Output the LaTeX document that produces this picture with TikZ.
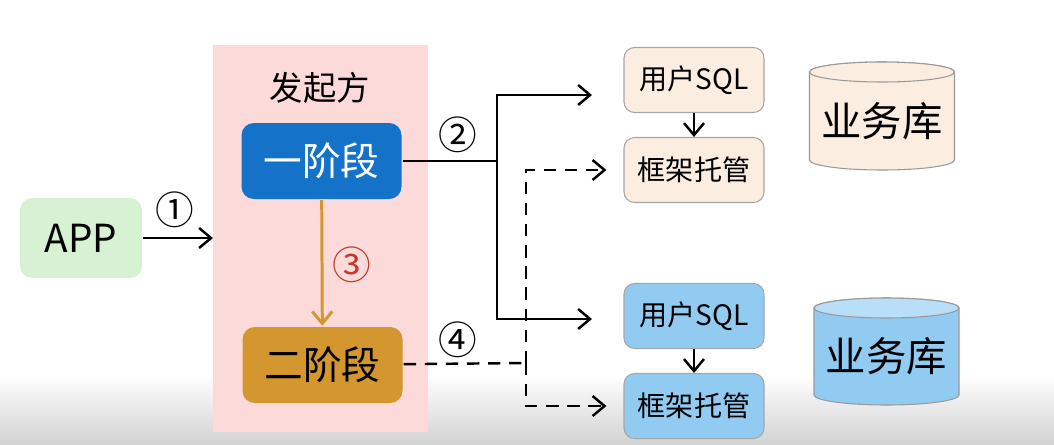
\documentclass[tikz,border=0pt]{standalone}
\usepackage{fontspec}
\setmainfont{Noto Sans CJK SC}
\usetikzlibrary{arrows.meta,positioning}
\definecolor{sideBg}{HTML}{FCDADA}
\definecolor{phaseOne}{HTML}{1572C9}
\definecolor{phaseTwo}{HTML}{D4962E}
\definecolor{appGreen}{HTML}{D6F2D3}
\definecolor{peach}{HTML}{FBEDE0}
\definecolor{skyBlue}{HTML}{92CBF2}
\definecolor{skyTop}{HTML}{B8DEF8}
\definecolor{stepRed}{HTML}{C0392B}

\begin{document}
\begin{tikzpicture}[>={Straight Barb[length=2.4mm,width=4mm]}, line width=1.4pt,
		phase/.style={rounded corners=7pt, minimum width=3.2cm, minimum height=1.52cm,
			font=\fontsize{22}{26}\selectfont},
		sqlbox/.style={rounded corners=6pt, draw=gray!70, line width=0.6pt, minimum width=2.8cm,
			minimum height=1.3cm, font=\fontsize{16}{19}\selectfont},
		tag/.style={font=\fontsize{22}{26}\selectfont}]
		\useasboundingbox (0,0) rectangle (21.08,8.88);
		% screen shadow at the bottom
		\shade[top color=white, bottom color=gray!35] (0,0) rectangle (21.08,1.4);
		% initiator area
		\fill[sideBg] (4.26,0.24) rectangle (8.56,7.98);
		\node[font=\fontsize{19}{22}\selectfont] (side) at (6.40,7.12) {发起方};
		\node[phase, fill=phaseOne, text=white] (one) at (6.43,5.66) {一阶段};
		\node[phase, fill=phaseTwo] (two) at (6.45,1.58) {二阶段};
		\node[phase, fill=appGreen, minimum width=2.44cm, minimum height=1.6cm] (app) at (1.62,4.12) {APP};
		% participants
		\node[sqlbox, fill=peach] (sqlA) at (13.88,7.28) {用户SQL};
		\node[sqlbox, fill=peach] (hostA) at (13.88,5.48) {框架托管};
		\node[sqlbox, fill=skyBlue] (sqlB) at (13.88,2.56) {用户SQL};
		\node[sqlbox, fill=skyBlue] (hostB) at (13.88,0.76) {框架托管};
		\draw[->] (sqlA) -- (hostA);
		\draw[->] (sqlB) -- (hostB);
		% databases
		\foreach \cx/\top/\bot/\body/\lid/\nm in {17.64/7.44/5.68/peach/peach/dbA, 17.73/2.72/0.98/skyBlue/skyTop/dbB} {
			\filldraw[fill=\body, draw=gray!80, line width=0.6pt]
				(\cx-1.45,\top) -- (\cx-1.45,\bot) arc[start angle=180, end angle=360, x radius=1.45, y radius=0.2]
				-- (\cx+1.45,\top) arc[start angle=0, end angle=180, x radius=1.45, y radius=0.2] -- cycle;
			\filldraw[fill=\lid, draw=gray!80, line width=0.6pt] (\cx,\top) ellipse[x radius=1.45, y radius=0.2];
			\node[font=\fontsize{23}{27}\selectfont] (\nm) at (\cx,{(\top+\bot)/2-0.1}) {业务库};
		}
		% step 1
		\coordinate (sideIn) at (4.26,4.12);
		\draw[->] (app) -- (sideIn);
		\node[tag] (s1) at (3.5,4.68) {①};
		% step 3
		\draw[->, phaseTwo, line width=1.7pt] (one) -- (two);
		\node[tag, text=stepRed] (s3) at (7.04,3.58) {③};
		% step 2
		\coordinate (split) at (9.94,5.66);
		\coordinate (upA) at (9.94,6.98);
		\coordinate (upB) at (9.94,2.5);
		\draw (one) -- (split);
		\draw[->] (split) -- (upA) -- (11.84,6.98);
		\draw[->] (split) -- (upB) -- (11.84,2.5);
		\node[tag] (s2) at (9.16,6.18) {②};
		% step 4
		\coordinate (join) at (10.52,1.62);
		\draw[dash pattern=on 7pt off 5pt] (two) -- (join);
		\draw[->, dash pattern=on 7pt off 5pt] (join) |- ([xshift=-3.4mm]hostA.west);
		\draw[->, dash pattern=on 7pt off 5pt] (join) |- ([xshift=-3.4mm]hostB.west);
		\node[tag] (s4) at (9.16,2.08) {④};
	\end{tikzpicture}
\end{document}
